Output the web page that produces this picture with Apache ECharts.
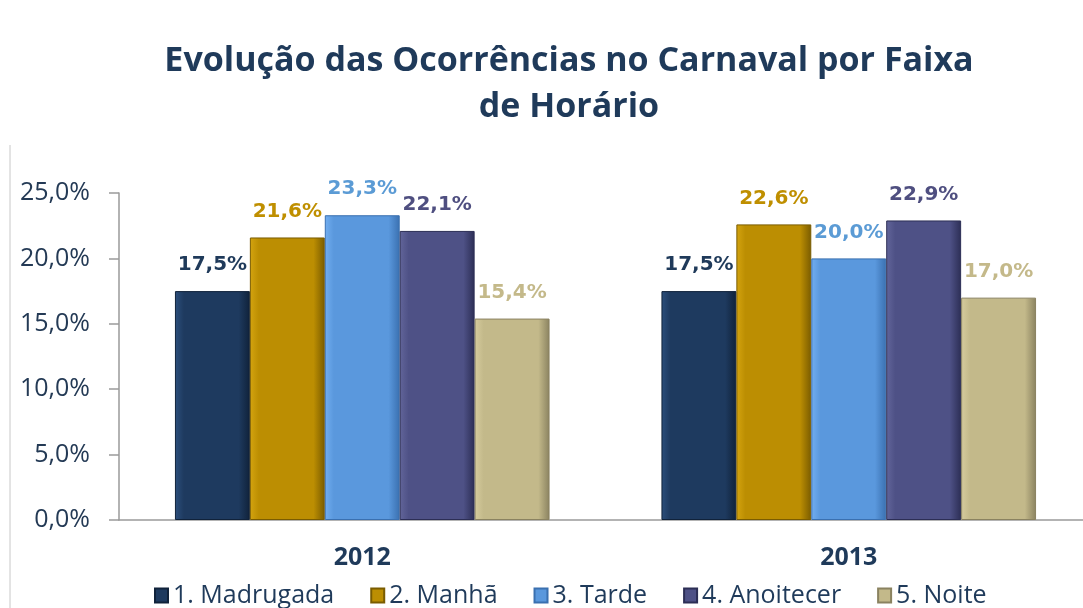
<!DOCTYPE html>
<html><head><meta charset="utf-8">
<script src="https://cdn.jsdelivr.net/npm/echarts@6/dist/echarts.min.js"></script>
<style>html,body{margin:0;padding:0;background:#fff}#c{width:1083px;height:608px}</style>
</head><body><div id="c"></div>
<script>
const categories = ['2012', '2013'];
const seriesNames = ['1. Madrugada', '2. Manhã', '3. Tarde', '4. Anoitecer', '5. Noite'];
const madrugada = [17.5, 17.5];
const manha = [21.6, 22.6];
const tarde = [23.3, 20.0];
const anoitecer = [22.1, 22.9];
const noite = [15.4, 17.0];
const yTicks = [0, 5, 10, 15, 20, 25];

const values = [madrugada, manha, tarde, anoitecer, noite];
const fills = [
  ['#2c4f7c', '#1e3a5f', '#10223a'],
  ['#d4a40f', '#bc8e02', '#7a5c00'],
  ['#72aef0', '#5a98dd', '#3a70b0'],
  ['#62659a', '#4e5186', '#2c2e55'],
  ['#d6cc9e', '#c3b98a', '#8a8260']
];
const labelColors = ['#1f3a5a', '#bf8f00', '#5b9bd5', '#4f4f80', '#c4b98a'];
const fmt = v => v.toFixed(1).replace('.', ',') + '%';

const chart = echarts.init(document.getElementById('c'));
chart.setOption({
  backgroundColor: '#ffffff',
  animation: false,
  title: {
    text: 'Evolução das Ocorrências no Carnaval por Faixa\nde Horário',
    left: 564, top: 33, textAlign: 'center',
    textStyle: { fontFamily: 'Open Sans', fontWeight: 'bold', fontSize: 34, color: '#1f3a5a', lineHeight: 46 }
  },
  legend: {
    left: 149, top: 578,
    itemWidth: 13, itemHeight: 14, itemGap: 36,
    icon: 'rect',
    textStyle: { fontFamily: 'Open Sans', fontSize: 25, color: '#1f3a5a', padding: [0, 0, 0, 0] },
    data: seriesNames
  },
  graphic: [{ type: 'line', shape: { x1: 10, y1: 145, x2: 10, y2: 608 }, style: { stroke: '#c8c8c8', lineWidth: 1 } }],
  grid: { left: 119, top: 193, right: -9, bottom: 88, outerBoundsMode: 'none' },
  xAxis: {
    type: 'category', data: categories,
    axisLine: { lineStyle: { color: '#9a9a9a', width: 1.5 } },
    axisTick: { show: false },
    axisLabel: { margin: 25, fontFamily: 'Open Sans', fontWeight: 'bold', fontSize: 25, color: '#1f3a5a' }
  },
  yAxis: {
    type: 'value', min: 0, max: 25, interval: 5,
    axisLine: { show: true, lineStyle: { color: '#9a9a9a', width: 1.5 } },
    axisTick: { show: true, length: 10, lineStyle: { color: '#9a9a9a', width: 1.5 } },
    splitLine: { show: false },
    axisLabel: {
      margin: 29, fontFamily: 'Open Sans', fontSize: 25, color: '#243a55',
      formatter: v => yTicks.includes(v) ? fmt(v) : ''
    }
  },
  series: seriesNames.map((name, i) => ({
    name, type: 'bar', data: values[i],
    barGap: '0%', barCategoryGap: '23%',
    itemStyle: {
      color: new echarts.graphic.LinearGradient(0, 0, 1, 0, [
        { offset: 0, color: fills[i][0] },
        { offset: 0.12, color: fills[i][1] },
        { offset: 0.85, color: fills[i][1] },
        { offset: 1, color: fills[i][2] }
      ]),
      borderColor: fills[i][2], borderWidth: 1
    },
    label: {
      show: true, position: 'top', distance: 16,
      fontFamily: 'DejaVu Sans', fontWeight: 'bold', fontSize: 20,
      color: labelColors[i], formatter: p => fmt(p.value)
    }
  }))
});
</script></body></html>
